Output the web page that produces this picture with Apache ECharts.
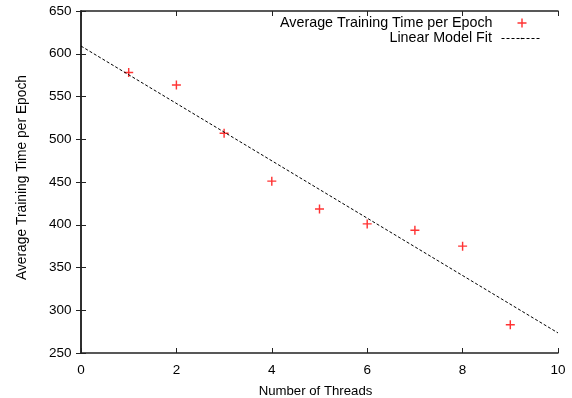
<!DOCTYPE html>
<html><head><meta charset="utf-8">
<script src="https://cdn.jsdelivr.net/npm/echarts@6/dist/echarts.min.js"></script>
<style>html,body{margin:0;padding:0;background:#fff}#c{width:572px;height:398px}</style>
</head><body><div id="c"></div>
<script>
var threads = [1, 2, 3, 4, 5, 6, 7, 8, 9];
var avgTime = [578, 563.5, 507, 451, 418.5, 401, 393.5, 375, 283];
var fitX = [0, 10];
var fitY = [609, 273.5];
var xTicks = [0, 2, 4, 6, 8, 10];
var yTicks = [250, 300, 350, 400, 450, 500, 550, 600, 650];

var FONT = 'Liberation Sans';
var plus = 'path://M4.2,0H5.8V10H4.2ZM0,4.2H10V5.8H0Z';
var chart = echarts.init(document.getElementById('c'), null, {renderer: 'canvas'});
var axisLine = {show: true, lineStyle: {color: '#222', width: 1.5}};
var tick = {show: true, inside: true, length: 5, lineStyle: {color: '#222', width: 1}};
var xBase = {type: 'value', min: xTicks[0], max: xTicks[xTicks.length-1], interval: 2, splitLine: {show: false}, axisLine: axisLine, axisTick: tick};
var yBase = {type: 'value', min: yTicks[0], max: yTicks[yTicks.length-1], interval: 50, splitLine: {show: false}, axisLine: axisLine, axisTick: tick};
chart.setOption({
  animation: false,
  backgroundColor: '#fff',
  textStyle: {fontFamily: FONT},
  grid: {left: 81, right: 14, top: 11, bottom: 45, containLabel: false, outerBoundsMode: 'none'},
  xAxis: [
    Object.assign({}, xBase, {position: 'bottom', name: 'Number of Threads', nameLocation: 'middle', nameGap: 32,
      nameTextStyle: {fontFamily: FONT, fontSize: 13.2, color: '#000', padding: [0, 8, 0, 0]},
      axisLabel: {fontFamily: FONT, fontSize: 13.5, color: '#000', margin: 10}}),
    Object.assign({}, xBase, {position: 'top', axisLabel: {show: false}})
  ],
  yAxis: [
    Object.assign({}, yBase, {position: 'left', name: 'Average Training Time per Epoch', nameLocation: 'middle', nameGap: 52,
      nameTextStyle: {fontFamily: FONT, fontSize: 13.8, color: '#000', padding: [0, 0, 0, 9]},
      axisLabel: {fontFamily: FONT, fontSize: 13.5, color: '#000', margin: 9.5}}),
    Object.assign({}, yBase, {position: 'right', axisLabel: {show: false}})
  ],
  legend: [
    {data: [{name: 'Average Training Time per Epoch', icon: plus}], right: 45.5, top: 15, align: 'right', padding: 0,
     itemWidth: 9, itemHeight: 9, itemGap: 0,
     textStyle: {fontFamily: FONT, fontSize: 14.3, lineHeight: 16, color: '#000', padding: [0, 20, 0, 0]}},
    {data: ['Linear Model Fit'], right: 30, top: 30.5, align: 'right', padding: 0, itemWidth: 40, itemHeight: 2,
     lineStyle: {width: 1, type: [3, 2], color: '#000'},
     textStyle: {fontFamily: FONT, fontSize: 14.3, lineHeight: 16, color: '#000', padding: [0, 4.5, 0, 0]}}
  ],
  series: [
    {name: 'Average Training Time per Epoch', type: 'scatter', symbol: plus, symbolSize: 9,
     itemStyle: {color: '#ff0000'}, data: threads.map(function(t, i){ return [t, avgTime[i]]; })},
    {name: 'Linear Model Fit', type: 'line', symbol: 'none', showSymbol: false,
     lineStyle: {color: '#000', width: 1, type: [3, 2]}, itemStyle: {color: '#000'},
     data: fitX.map(function(x, i){ return [x, fitY[i]]; })}
  ]
});
</script></body></html>
